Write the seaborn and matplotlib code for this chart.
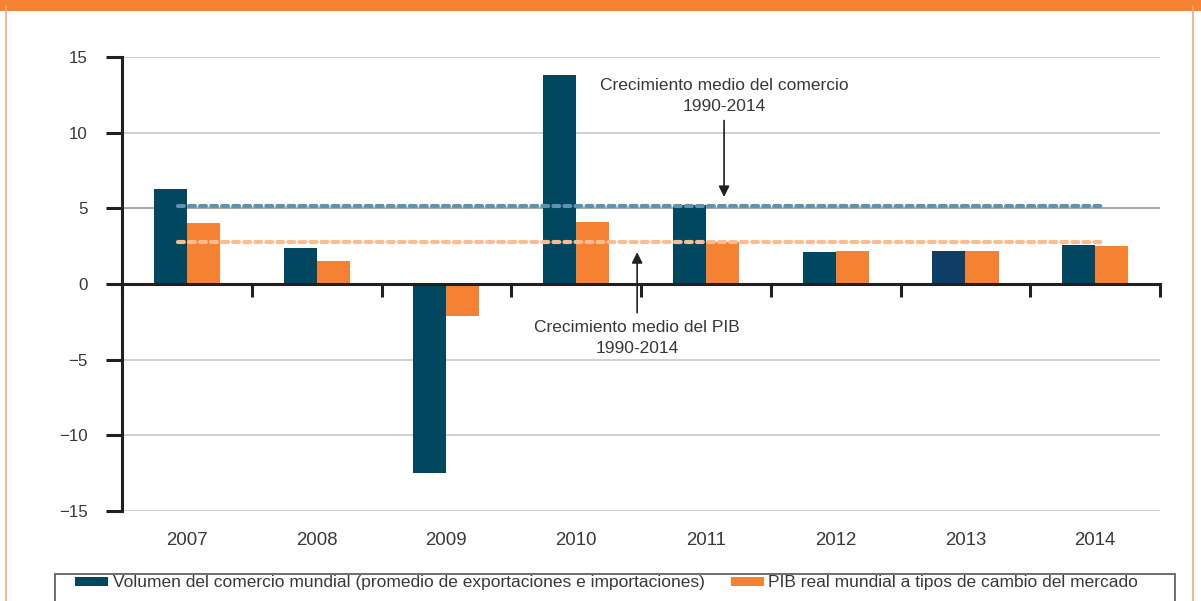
import numpy as np
import pandas as pd
import matplotlib
matplotlib.use("Agg")
import matplotlib.pyplot as plt
import seaborn as sns
from matplotlib.patches import Rectangle
from matplotlib.lines import Line2D

# ---------------- Data ----------------
years = ["2007", "2008", "2009", "2010", "2011", "2012", "2013", "2014"]
trade = [6.3, 2.4, -12.5, 13.8, 5.2, 2.1, 2.2, 2.6]
gdp = [4.0, 1.5, -2.1, 4.1, 2.8, 2.2, 2.2, 2.5]
trade_avg = 5.15
gdp_avg = 2.75

series_trade = "Volumen del comercio mundial (promedio de exportaciones e importaciones)"
series_gdp = "PIB real mundial a tipos de cambio del mercado"

df = pd.DataFrame({
    "year": years * 2,
    "value": trade + gdp,
    "series": [series_trade] * len(years) + [series_gdp] * len(years),
})

# ---------------- Style ----------------
sns.set_style("white")
plt.rcParams["font.family"] = ["Liberation Sans", "DejaVu Sans"]
text_col = "#383838"
axis_col = "#231f20"
dark = "#00475f"
orange = "#f58233"
fs_tick = 12.2
fs_year = 13.4
fs_text = 12.5

fig = plt.figure(figsize=(12.01, 6.01), dpi=100)
ax = fig.add_axes([0.1016, 0.1498, 0.8643, 0.7554])

sns.barplot(data=df, x="year", y="value", hue="series",
            palette=[dark, orange], width=0.51, saturation=1,
            linewidth=0, ax=ax, zorder=3)
ax.get_legend().remove()

# 2013 trade bar is a slightly different shade in the original
ax.patches[6].set_facecolor("#0e3d66")

ax.set_xlim(-0.5, 7.5)
ax.set_ylim(-15, 15)
ax.set_yticks([-15, -10, -5, 0, 5, 10, 15])
ax.set_yticklabels(["\u221215", "\u221210", "\u22125", "0", "5", "10", "15"])
ax.set_xlabel("")
ax.set_ylabel("")

# gridlines
for v in [-15, -10, -5, 10, 15]:
    ax.axhline(v, color="#c8c8c8", lw=1.2, zorder=0)
ax.axhline(5, color="#9a9a9a", lw=1.2, zorder=0)

# spines
for s in ["top", "right", "bottom"]:
    ax.spines[s].set_visible(False)
ax.spines["left"].set_color(axis_col)
ax.spines["left"].set_linewidth(2.2)
ax.tick_params(axis="y", left=True, direction="out", length=11.5, width=2.2,
               color=axis_col, labelsize=fs_tick, labelcolor=text_col, pad=13)
ax.tick_params(axis="x", length=0, labelsize=fs_year, labelcolor=text_col, pad=15)

# zero axis with category boundary ticks
secax = ax.secondary_xaxis(0.5)
secax.set_alignment("bottom")
secax.set_zorder(5)
secax.set_xticks(np.arange(-0.5, 8, 1))
secax.set_xticklabels([])
secax.spines["bottom"].set_color(axis_col)
secax.spines["bottom"].set_linewidth(2.2)
secax.tick_params(axis="x", bottom=True, direction="out", length=9, width=2.2,
                  color=axis_col)

# average lines
ax.plot([-0.07, 7.07], [trade_avg, trade_avg], color="#5f93ad", lw=3.0,
        linestyle=(0, (1.4, 1.25)), dash_capstyle="round", zorder=4)
ax.plot([-0.07, 7.07], [gdp_avg, gdp_avg], color="#fbbd8f", lw=3.0,
        linestyle=(0, (1.4, 1.25)), dash_capstyle="round", zorder=4)

# annotations
ax.text(4.14, 12.4, "Crecimiento medio del comercio\n1990-2014", ha="center",
        va="center", fontsize=fs_text, color=text_col, linespacing=1.5)
ax.annotate("", xy=(4.14, 5.75), xytext=(4.14, 10.8),
            arrowprops=dict(arrowstyle="-|>", color=axis_col, lw=1.2,
                            mutation_scale=16, shrinkA=0, shrinkB=0), zorder=6)
ax.text(3.47, -3.6, "Crecimiento medio del PIB\n1990-2014", ha="center",
        va="center", fontsize=fs_text, color=text_col, linespacing=1.5)
ax.annotate("", xy=(3.47, 2.1), xytext=(3.47, -1.9),
            arrowprops=dict(arrowstyle="-|>", color=axis_col, lw=1.2,
                            mutation_scale=16, shrinkA=0, shrinkB=0), zorder=6)

# legend
handles, labels = ax.get_legend_handles_labels()
fig.legend(handles, labels, loc="center", bbox_to_anchor=(0.505, 0.030),
           ncol=2, frameon=False, fontsize=fs_text, handlelength=1.9,
           handleheight=0.4, handletextpad=0.25, columnspacing=1.5,
           labelcolor=text_col)
fig.patches.append(Rectangle((0.0458, -0.02), 0.9326, 0.0649,
                             transform=fig.transFigure, fill=False,
                             edgecolor="#555555", lw=1.2))

# frame decoration
fig.patches.append(Rectangle((0, 0.9817), 1, 0.05, transform=fig.transFigure,
                             facecolor=orange, edgecolor="none"))
fig.add_artist(Line2D([0.005, 0.005], [0, 0.99], transform=fig.transFigure,
                      color="#f8a878", lw=1.2))
fig.add_artist(Line2D([0.9935, 0.9935], [0, 0.99], transform=fig.transFigure,
                      color="#f8a878", lw=1.2))

fig.savefig("out.png", dpi=100)
